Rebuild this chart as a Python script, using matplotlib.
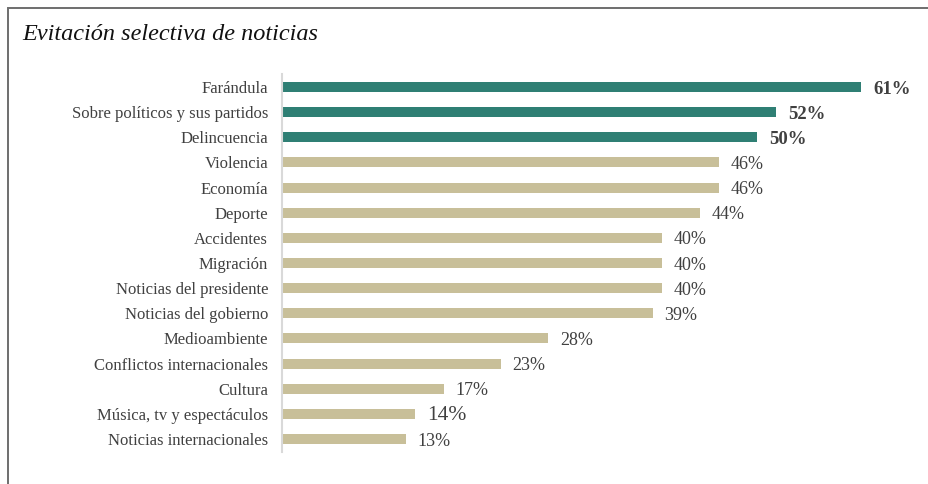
import matplotlib.pyplot as plt
from matplotlib.patches import Rectangle

# Datos
categorias = ['Farándula', 'Sobre políticos y sus partidos', 'Delincuencia', 'Violencia',
              'Economía', 'Deporte', 'Accidentes', 'Migración', 'Noticias del presidente',
              'Noticias del gobierno', 'Medioambiente', 'Conflictos internacionales',
              'Cultura', 'Música, tv y espectáculos', 'Noticias internacionales']
valores = [61, 52, 50, 46, 46, 44, 40, 40, 40, 39, 28, 23, 17, 14, 13]
destacados = 3

verde = '#2f7f74'
beige = '#c8bf99'
gris_texto = '#404040'

plt.rcParams['font.family'] = ['Liberation Serif', 'DejaVu Serif']

W, H = 929, 484
fig = plt.figure(figsize=(W / 100, H / 100), dpi=100)

# Marco gris
fig.patches.append(Rectangle((8 / W, -0.05), 1.1, 1 - 8 / H + 0.05, transform=fig.transFigure,
                             fill=False, edgecolor='#6e6e6e', linewidth=1.4))

fig.text(22 / W, 1 - 35 / H, 'Evitación selectiva de noticias', fontsize=17.5,
         style='italic', color='#111111', va='center', ha='left')

ax = fig.add_axes([282 / W, 1 - 451.6 / H, 628 / W, (451.6 - 74.4) / H])
n = len(valores)
ys = list(range(n))
colores = [verde if i < destacados else beige for i in range(n)]
ax.barh(ys, valores, height=0.4, color=colores)
ax.set_ylim(n - 0.5, -0.5)
ax.set_xlim(0, 628 / 9.5)

ax.set_yticks(ys)
ax.set_yticklabels(categorias, fontsize=12, color=gris_texto)
ax.tick_params(axis='y', length=0, pad=10)
ax.set_xticks([])
for s in ['top', 'right', 'bottom']:
    ax.spines[s].set_visible(False)
ax.spines['left'].set_color('#d9d9d9')
ax.spines['left'].set_linewidth(1.5)

for i, v in enumerate(valores):
    if i < destacados:
        kw = dict(fontsize=13.5, fontweight='bold')
    elif categorias[i].startswith('Música'):
        kw = dict(fontsize=15.5)
    else:
        kw = dict(fontsize=13)
    ax.annotate(f'{v}%', (v, i), xytext=(8.5, -1.5), textcoords='offset points',
                va='center', ha='left', color=gris_texto, **kw)

fig.savefig('out.png', dpi=100)
